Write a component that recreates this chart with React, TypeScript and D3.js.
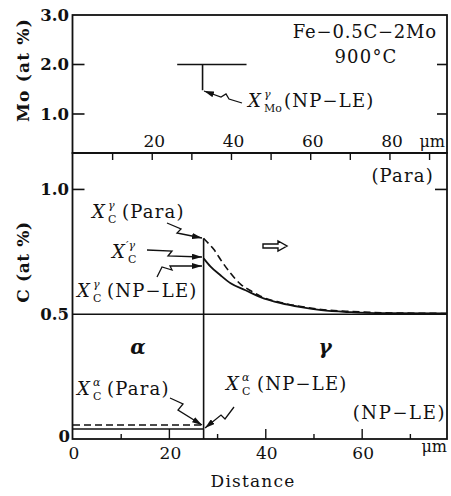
import React from "react";
import * as d3 from "d3";

// Carbon profile in austenite, NP-LE (solid) and paraequilibrium (dashed)
const distNPLE = [27.1, 28.5, 30.6, 32.7, 35.8, 38.9, 43.1, 47.3, 51.5, 57.7, 64.0, 77.6];
const cNPLE = [0.724, 0.692, 0.656, 0.624, 0.596, 0.568, 0.544, 0.528, 0.516, 0.508, 0.504, 0.503];
const distPara = [27.1, 28.1, 29.2, 31.0, 32.7, 34.8, 36.9, 38.9, 43.1, 47.3, 51.5, 57.7, 64.0, 77.6];
const cPara = [0.804, 0.784, 0.76, 0.708, 0.664, 0.62, 0.594, 0.572, 0.547, 0.531, 0.519, 0.511, 0.506, 0.503];
// Ferrite carbon levels
const interfacePos = 27.1;
const cAlphaPara = 0.056;
const cAlphaNPLE = 0.04;
const cBulk = 0.5;
// Mo profile (upper panel, own distance scale)
const moLevel = 2.0;
const moSpan = [26.3, 43.8];
const moSpikeAt = 32.7;
const moSpikeMin = 1.48;

const moTicks = [3.0, 2.0, 1.0];
const moTopDistTicks = [10, 20, 30, 40, 50, 60, 70, 80, 90];
const moTopDistLabels = [20, 40, 60, 80];
const cTicks = [1.0, 0.5, 0];
const distTicks = [10, 20, 30, 40, 50, 60, 70];
const distLabels = [0, 20, 40, 60];

const FONT = "'DejaVu Serif', serif";
const INK = "#111";

const left = 72.5, right = 447;
const topY = 15, midY = 153, botY = 439;

const xTop = d3.scaleLinear().domain([0, 94.4]).range([73, right]);
const yMo = d3.scaleLinear().domain([0.212, 3]).range([midY, topY]);
const xC = d3.scaleLinear().domain([0, 77.6]).range([73, right]);
const yC = d3.scaleLinear().domain([0, 1.146]).range([botY, midY]);

function XLabel({ x, y, sup, sub, rest, restX, supDx = 0 }:
  { x: number; y: number; sup: string; sub: string; rest?: string; restX?: number; supDx?: number }) {
  return (
    <g fontFamily={FONT} fill={INK}>
      <text x={x} y={y} fontSize={18} fontStyle="italic">X</text>
      <text x={x + 16 + supDx} y={y - 9} fontSize={11} fontStyle="italic">{sup}</text>
      <text x={x + 16} y={y + 5} fontSize={11}>{sub}</text>
      {rest ? <text x={restX} y={y} fontSize={18} letterSpacing={1.2}>{rest}</text> : null}
    </g>
  );
}

export default function App() {
  const line = d3.line<[number, number]>().curve(d3.curveMonotoneX);
  const npleD = line(distNPLE.map((d, i) => [xC(d), yC(cNPLE[i])]))!;
  const paraD = line(distPara.map((d, i) => [xC(d), yC(cPara[i])]))!;

  const leader = (pts: number[][]) => pts.map((p, i) => (i ? "L" : "M") + p[0] + "," + p[1]).join("");

  return (
    <svg width={451} height={496} style={{ position: "absolute", left: 0, top: 0, background: "#fff" }}
      fontFamily={FONT}>
      <defs>
        <marker id="ah" viewBox="0 0 10 6" refX="10" refY="3" markerWidth="10" markerHeight="6"
          markerUnits="userSpaceOnUse" orient="auto">
          <path d="M0,0 L10,3 L0,6 Z" fill={INK} />
        </marker>
      </defs>

      {/* Upper panel: Mo */}
      <rect x={left} y={topY} width={right - left} height={midY - topY} fill="none" stroke={INK} strokeWidth={1.8} />
      {moTicks.map((t) => (
        <g key={"mo" + t}>
          {t < 3 && <line x1={left} x2={left + 12} y1={yMo(t)} y2={yMo(t)} stroke={INK} strokeWidth={1.6} />}
          {t < 3 && <line x1={right - 10} x2={right} y1={yMo(t)} y2={yMo(t)} stroke={INK} strokeWidth={1.6} />}
          <text x={69} y={yMo(t) + 6} textAnchor="end" fontSize={16.5} fontWeight="bold" fill={INK}>{t.toFixed(1)}</text>
        </g>
      ))}
      {moTopDistTicks.map((t) => (
        <line key={"mt" + t} x1={xTop(t)} x2={xTop(t)} y1={midY} y2={midY + 7} stroke={INK} strokeWidth={1.4} />
      ))}
      {moTopDistLabels.map((t) => (
        <text key={"ml" + t} x={xTop(t) + 2} y={147} textAnchor="middle" fontSize={17} fill={INK}>{t}</text>
      ))}
      <text x={445} y={147} textAnchor="end" fontSize={16} fill={INK}>μm</text>
      <text x={23} y={70} transform="rotate(-90 23 70)" dy={6} textAnchor="middle" fontSize={17}
        fontWeight="bold" letterSpacing={1.2} fill={INK}>Mo (at %)</text>

      <line x1={xTop(moSpan[0])} x2={xTop(moSpan[1])} y1={yMo(moLevel)} y2={yMo(moLevel)} stroke={INK} strokeWidth={1.6} />
      <line x1={xTop(moSpikeAt)} x2={xTop(moSpikeAt)} y1={yMo(moLevel)} y2={yMo(moSpikeMin)} stroke={INK} strokeWidth={1.6} />
      <path d={leader([[242, 103], [229, 99], [226, 94], [221, 97], [204, 91]])} fill="none" stroke={INK}
        strokeWidth={1.3} markerEnd="url(#ah)" />
      <XLabel x={248} y={107} sup="γ" sub="Mo" rest="(NP−LE)" restX={284} />

      <text x={437} y={38} textAnchor="end" fontSize={18} letterSpacing={0.8} fill={INK}>Fe−0.5C−2Mo</text>
      <text x={366} y={63} textAnchor="middle" fontSize={18} letterSpacing={1.2} fill={INK}>900°C</text>

      {/* Lower panel: C */}
      <rect x={left} y={midY} width={right - left} height={botY - midY} fill="none" stroke={INK} strokeWidth={1.8} />
      <line x1={left} x2={left + 12} y1={yC(1)} y2={yC(1)} stroke={INK} strokeWidth={1.6} />
      <line x1={right - 12} x2={right} y1={yC(1)} y2={yC(1)} stroke={INK} strokeWidth={1.6} />
      {cTicks.map((t) => (
        <text key={"c" + t} x={t === 0 ? 70 : 69} y={yC(t) + (t === 0 ? 3 : 6)} textAnchor="end" fontSize={16.5}
          fontWeight="bold" fill={INK}>{t === 0 ? "0" : t.toFixed(1)}</text>
      ))}
      {distTicks.map((t) => (
        <line key={"dt" + t} x1={xC(t)} x2={xC(t)} y1={botY} y2={botY - (t % 20 === 0 ? 10 : 5)}
          stroke={INK} strokeWidth={1.4} />
      ))}
      {distLabels.map((t) => (
        <text key={"dl" + t} x={xC(t) + 1} y={459} textAnchor="middle" fontSize={17} fill={INK}>{t}</text>
      ))}
      <text x={447} y={452} textAnchor="end" fontSize={16} fill={INK}>μm</text>
      <text x={253} y={487} textAnchor="middle" fontSize={17} letterSpacing={1.2} fill={INK}>Distance</text>
      <text x={23} y={262} transform="rotate(-90 23 262)" dy={6} textAnchor="middle" fontSize={17}
        fontWeight="bold" letterSpacing={0.6} fill={INK}>C (at %)</text>

      {/* bulk level and interface */}
      <line x1={left} x2={right} y1={yC(cBulk)} y2={yC(cBulk)} stroke={INK} strokeWidth={1.6} />
      <line x1={xC(interfacePos)} x2={xC(interfacePos)} y1={botY} y2={yC(cPara[0])} stroke={INK} strokeWidth={1.6} />

      {/* austenite profiles */}
      <path d={npleD} fill="none" stroke={INK} strokeWidth={1.8} />
      <path d={paraD} fill="none" stroke={INK} strokeWidth={1.6} strokeDasharray="7,4" />

      {/* ferrite levels */}
      <line x1={xC(0)} x2={xC(interfacePos)} y1={yC(cAlphaPara)} y2={yC(cAlphaPara)} stroke={INK}
        strokeWidth={1.6} strokeDasharray="7,4" />
      <line x1={xC(0)} x2={xC(interfacePos)} y1={yC(cAlphaNPLE)} y2={yC(cAlphaNPLE)} stroke={INK} strokeWidth={1.6} />

      {/* growth direction arrow */}
      <path d="M263,244 H278 V241 L287,246 L278,251 V248 H263 Z" fill="#fff" stroke={INK} strokeWidth={1.4} />

      <text x={138} y={354} textAnchor="middle" fontSize={20} fontStyle="italic" fontWeight="bold" fill={INK}>α</text>
      <text x={325} y={354} textAnchor="middle" fontSize={20} fontStyle="italic" fontWeight="bold" fill={INK}>γ</text>

      <text x={434} y={182} textAnchor="end" fontSize={18} letterSpacing={1.2} fill={INK}>(Para)</text>
      <text x={446} y={419} textAnchor="end" fontSize={18} letterSpacing={1.6} fill={INK}>(NP−LE)</text>

      {/* leaders to interface compositions */}
      <path d={leader([[167, 223], [181, 229], [177, 233], [202, 238]])} fill="none" stroke={INK}
        strokeWidth={1.3} markerEnd="url(#ah)" />
      <path d={leader([[147, 250], [172, 251], [168, 256], [202, 257]])} fill="none" stroke={INK}
        strokeWidth={1.3} markerEnd="url(#ah)" />
      <path d={leader([[157, 277], [162, 267], [172, 270], [170, 266], [202, 266]])} fill="none" stroke={INK}
        strokeWidth={1.3} markerEnd="url(#ah)" />
      <path d={leader([[170, 398], [183, 404], [178, 410], [202, 425]])} fill="none" stroke={INK}
        strokeWidth={1.3} markerEnd="url(#ah)" />
      <path d={leader([[234, 407], [225, 419], [221, 415], [205, 428]])} fill="none" stroke={INK}
        strokeWidth={1.3} markerEnd="url(#ah)" />

      <XLabel x={92} y={218} sup="γ" sub="C" rest="(Para)" restX={122} />
      <XLabel x={112} y={258} sup="′γ" sub="C" supDx={-2} />
      <XLabel x={77} y={297} sup="γ" sub="C" rest="(NP−LE)" restX={107} />
      <XLabel x={77} y={395} sup="α" sub="C" rest="(Para)" restX={107} />
      <XLabel x={226} y={390} sup="α" sub="C" rest="(NP−LE)" restX={257} />
    </svg>
  );
}
